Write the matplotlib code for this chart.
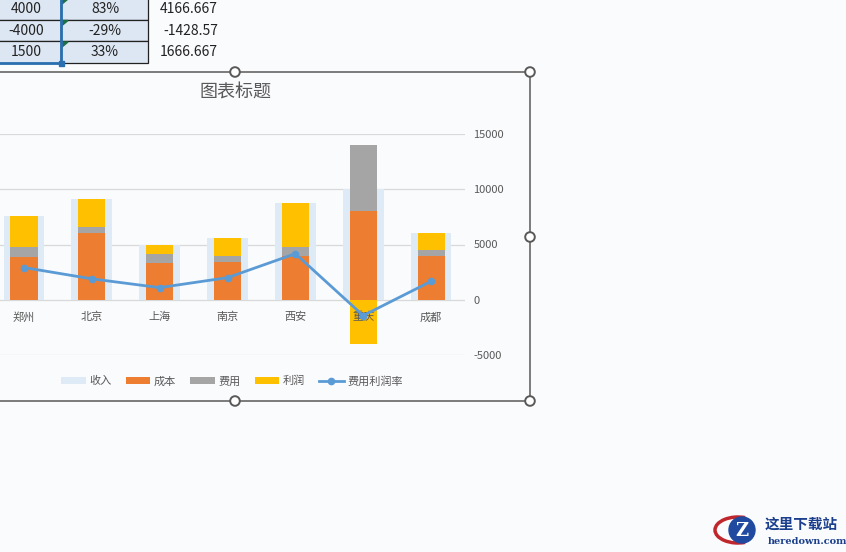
import numpy as np
import matplotlib
matplotlib.use("Agg")
import matplotlib.pyplot as plt
from matplotlib.patches import Rectangle, Circle, Arc

plt.rcParams['font.family'] = ['Noto Sans CJK SC', 'DejaVu Sans']
plt.rcParams['axes.unicode_minus'] = False

# chart data
cities = ['郑州', '北京', '上海', '南京', '西安', '重庆', '成都']
income = [7600, 9100, 5000, 5600, 8800, 10000, 6000]
cost = [3900, 6000, 3300, 3400, 4000, 8000, 4000]
fee = [900, 600, 800, 600, 800, 6000, 500]
profit = [2800, 2500, 900, 1600, 4000, -4000, 1500]
rate_line = [2917, 1894, 1098, 2000, 4167, -1429, 1667]

# visible spreadsheet cells above the chart
tbl_col1 = ['4000', '-4000', '1500']
tbl_col2 = ['83%', '-29%', '33%']
tbl_col3 = ['4166.667', '-1428.57', '1666.667']

W, H = 846, 552
bg = '#fafbfd'
grey = '#595959'

fig = plt.figure(figsize=(W / 100, H / 100), dpi=100)
fig.patch.set_facecolor(bg)

# plot area in pixels: x -10..465, y 134..355
ax = fig.add_axes([-10 / W, (H - 355) / H, 475 / W, 221 / H])
ax.set_facecolor('none')
x = np.arange(len(cities))

b1 = ax.bar(x, income, width=0.6, color='#deebf7', zorder=2, label='收入')
b2 = ax.bar(x, cost, width=0.4, color='#ed7d31', zorder=3, label='成本')
b3 = ax.bar(x, fee, width=0.4, bottom=cost, color='#a5a5a5', zorder=3, label='费用')
p_bottom = np.where(np.array(profit) >= 0, np.array(cost) + np.array(fee), 0)
b4 = ax.bar(x, profit, width=0.4, bottom=p_bottom, color='#ffc000', zorder=3, label='利润')
ln, = ax.plot(x, rate_line, color='#5b9bd5', lw=2.0, marker='o', ms=4.5, zorder=5, label='费用利润率')

ax.set_xlim(-0.5, 6.5)
ax.set_ylim(-5000, 15000)
ax.set_yticks([-5000, 0, 5000, 10000, 15000])
ax.yaxis.tick_right()
ax.tick_params(axis='y', length=0, pad=6, labelsize=8, labelcolor=grey)
ax.set_xticks([])
ax.grid(axis='y', color='#d9d9d9', lw=0.9, zorder=0)
for s in ax.spines.values():
    s.set_visible(False)

for i, c in enumerate(cities):
    ax.annotate(c, (i, 0), xytext=(0, -17.5), textcoords='offset pixels',
                ha='center', va='center', fontsize=8, color=grey, zorder=4)

handles = [b1, b2, b3, b4, ln]
fig.legend(handles, [hd.get_label() for hd in handles], loc='center',
           bbox_to_anchor=(232 / W, (H - 381) / H), ncol=5,
           frameon=False, fontsize=8, labelcolor=grey, handlelength=2.2,
           handleheight=0.55, handletextpad=0.3, columnspacing=1.3)

fig.text(235 / W, (H - 93) / H, '图表标题', ha='center', va='center', fontsize=13, color=grey)

# overlay for cells, chart frame and watermark
ov = fig.add_axes([0, 0, 1, 1])
ov.set_xlim(0, W)
ov.set_ylim(H, 0)
ov.axis('off')
ov.patch.set_alpha(0)

row_y = [-2, 19.5, 41, 62.5]
for r in range(3):
    y0, y1 = row_y[r], row_y[r + 1]
    ov.add_patch(Rectangle((-2, y0), 63, y1 - y0, facecolor='#dde7f3', edgecolor='#222222', lw=0.9))
    ov.add_patch(Rectangle((61, y0), 87, y1 - y0, facecolor='#dde7f3', edgecolor='#222222', lw=0.9))
    ov.add_patch(plt.Polygon([[62, y0 + 1], [68, y0 + 1], [62, y0 + 6]], color='#1e7145'))
    ym = (y0 + y1) / 2 + 0.5
    ov.text(26, ym, tbl_col1[r], ha='center', va='center', fontsize=10, color='#222222')
    ov.text(105, ym, tbl_col2[r], ha='center', va='center', fontsize=10, color='#222222')
    ov.text(218, ym, tbl_col3[r], ha='right', va='center', fontsize=10, color='#222222')
# selection border
ov.plot([61, 61], [-2, 62.5], color='#2a6fb0', lw=2)
ov.plot([-2, 61], [62.5, 62.5], color='#2a6fb0', lw=2)
ov.add_patch(Rectangle((58.5, 60.5), 5, 5, color='#2a6fb0'))

# chart frame and handles
ov.plot([-2, 530, 530, -2], [72, 72, 401, 401], color=grey, lw=1.1)
for hx, hy in [(235, 72), (530, 72), (530, 237), (235, 401), (530, 401)]:
    ov.add_patch(Circle((hx, hy), 4.8, facecolor='white', edgecolor=grey, lw=1.4, zorder=6))

# watermark
ov.add_patch(Arc((738, 530), 46, 26, theta1=60, theta2=300, color='#c0272d', lw=2.5))
ov.add_patch(Circle((742, 530), 13, color='#1f4aa0'))
ov.text(742, 531, 'Z', ha='center', va='center', fontsize=13, fontweight='bold',
        color='white', family='DejaVu Serif')
ov.text(765, 524, '这里下载站', ha='left', va='center', fontsize=10.5, fontweight='bold', color='#1b3f8c')
ov.text(768, 541, 'heredown.com', ha='left', va='center', fontsize=7, color='#1b3f8c',
        family='DejaVu Serif', fontweight='bold')

fig.savefig('out.png', dpi=100, facecolor=bg)
